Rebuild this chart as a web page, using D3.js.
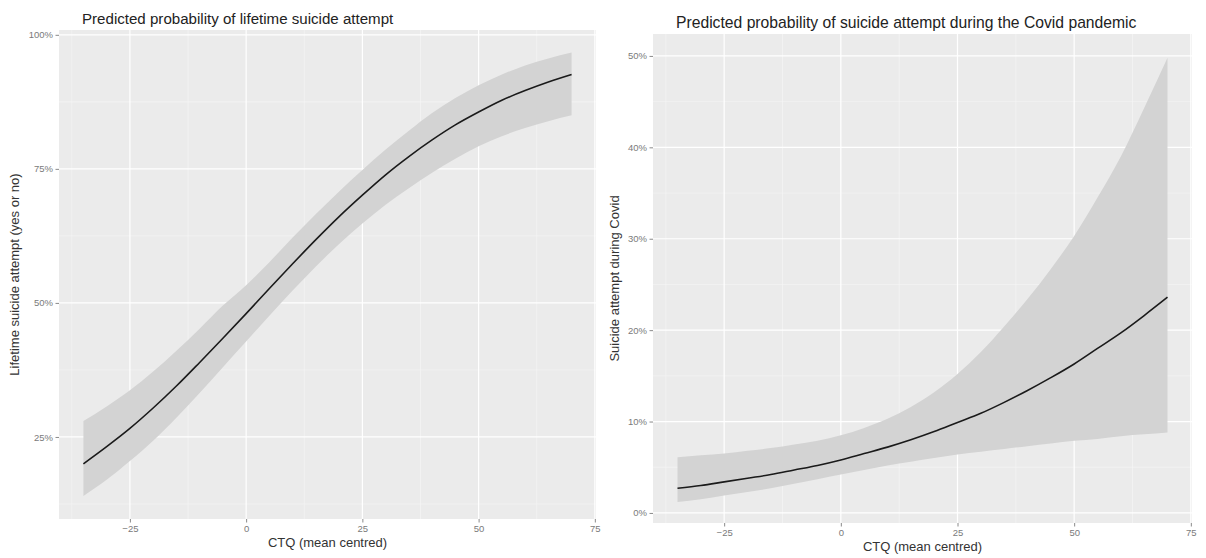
<!DOCTYPE html>
<html>
<head>
<meta charset="utf-8">
<script src="https://cdn.jsdelivr.net/npm/d3@7"></script>
<style>
  html, body { margin: 0; padding: 0; background: #fff; }
  svg { display: block; font-family: "Liberation Sans", Arial, sans-serif; }
</style>
</head>
<body>
<svg id="chart" width="1206" height="558"></svg>
<script>
// ---- Data ----
const ctq = [-35,-30,-25,-20,-15,-10,-5,0,5,10,15,20,25,30,35,40,45,50,55,60,65,70];

// Lifetime suicide attempt (proportion)
const lifetimeFit  = [0.200,0.232,0.266,0.304,0.345,0.389,0.434,0.480,0.527,0.573,0.618,0.661,0.701,0.739,0.773,0.804,0.832,0.856,0.878,0.896,0.912,0.926];
const lifetimeLow  = [0.140,0.170,0.205,0.243,0.286,0.332,0.380,0.428,0.476,0.523,0.568,0.610,0.648,0.683,0.714,0.743,0.769,0.792,0.811,0.826,0.839,0.850];
const lifetimeHigh = [0.280,0.307,0.337,0.372,0.411,0.452,0.495,0.533,0.576,0.622,0.666,0.708,0.748,0.786,0.821,0.854,0.882,0.906,0.926,0.943,0.956,0.967];

// Suicide attempt during Covid (proportion)
const covidFit  = [0.027,0.030,0.034,0.038,0.042,0.047,0.052,0.058,0.065,0.072,0.080,0.089,0.099,0.109,0.121,0.134,0.148,0.163,0.180,0.197,0.216,0.236];
const covidLow  = [0.012,0.015,0.019,0.023,0.027,0.032,0.037,0.042,0.047,0.052,0.056,0.060,0.064,0.067,0.070,0.073,0.076,0.079,0.081,0.084,0.086,0.088];
const covidHigh = [0.061,0.063,0.065,0.068,0.071,0.075,0.079,0.085,0.093,0.103,0.116,0.132,0.152,0.176,0.204,0.234,0.267,0.303,0.345,0.390,0.443,0.498];

// Tick labels
const xTicks = [-25, 0, 25, 50, 75];
const xMinor = [-37.5, -12.5, 12.5, 37.5, 62.5];
const lifetimeYTicks = [0.25, 0.50, 0.75, 1.00];
const lifetimeYMinor = [0.125, 0.375, 0.625, 0.875];
const covidYTicks = [0, 0.1, 0.2, 0.3, 0.4, 0.5];
const covidYMinor = [0.05, 0.15, 0.25, 0.35, 0.45];

const titles = ["Predicted probability of lifetime suicide attempt",
                "Predicted probability of suicide attempt during the Covid pandemic"];
const yTitles = ["Lifetime suicide attempt (yes or no)", "Suicide attempt during Covid"];
const xTitle = "CTQ (mean centred)";

// ---- Layout ----
const panels = [
  { box: {x0: 59, x1: 596, y0: 30, y1: 519}, xDom: [-40.25, 75.25], yDom: [0.097, 1.009],
    fit: lifetimeFit, low: lifetimeLow, high: lifetimeHigh,
    yTicks: lifetimeYTicks, yMinor: lifetimeYMinor,
    title: titles[0], titleX: 82, titleY: 24, titleSize: 15.1,
    yTitle: yTitles[0], yTitleX: 19, xTitleY: 547 },
  { box: {x0: 653, x1: 1192, y0: 34, y1: 523}, xDom: [-40.25, 75.25], yDom: [-0.011, 0.524],
    fit: covidFit, low: covidLow, high: covidHigh,
    yTicks: covidYTicks, yMinor: covidYMinor,
    title: titles[1], titleX: 676, titleY: 28, titleSize: 15.7,
    yTitle: yTitles[1], yTitleX: 619, xTitleY: 551 }
];

const svg = d3.select("#chart");
const pctFmt = d3.format(".0%");

panels.forEach(p => {
  const b = p.box;
  const x = d3.scaleLinear().domain(p.xDom).range([b.x0, b.x1]);
  const y = d3.scaleLinear().domain(p.yDom).range([b.y1, b.y0]);
  const g = svg.append("g");

  // panel background
  g.append("rect").attr("x", b.x0).attr("y", b.y0)
    .attr("width", b.x1 - b.x0).attr("height", b.y1 - b.y0).attr("fill", "#ebebeb");

  // minor grid
  g.selectAll(".vminor").data(xMinor).join("line")
    .attr("x1", d => x(d)).attr("x2", d => x(d)).attr("y1", b.y0).attr("y2", b.y1)
    .attr("stroke", "#f6f6f6").attr("stroke-width", 0.6);
  g.selectAll(".hminor").data(p.yMinor).join("line")
    .attr("y1", d => y(d)).attr("y2", d => y(d)).attr("x1", b.x0).attr("x2", b.x1)
    .attr("stroke", "#f6f6f6").attr("stroke-width", 0.6);
  // major grid
  g.selectAll(".vmajor").data(xTicks).join("line")
    .attr("x1", d => x(d)).attr("x2", d => x(d)).attr("y1", b.y0).attr("y2", b.y1)
    .attr("stroke", "#ffffff").attr("stroke-width", 1.2);
  g.selectAll(".hmajor").data(p.yTicks).join("line")
    .attr("y1", d => y(d)).attr("y2", d => y(d)).attr("x1", b.x0).attr("x2", b.x1)
    .attr("stroke", "#ffffff").attr("stroke-width", 1.2);

  // ribbon
  const area = d3.area().x((d, i) => x(ctq[i])).y0((d, i) => y(p.low[i])).y1((d, i) => y(p.high[i]))
    .curve(d3.curveMonotoneX);
  g.append("path").datum(ctq).attr("d", area).attr("fill", "#d3d3d3");

  // line
  const line = d3.line().x((d, i) => x(ctq[i])).y((d, i) => y(p.fit[i])).curve(d3.curveMonotoneX);
  g.append("path").datum(ctq).attr("d", line).attr("fill", "none")
    .attr("stroke", "#1a1a1a").attr("stroke-width", 1.6);

  // axes
  const xAxis = g.append("g").attr("transform", `translate(0,${b.y1})`)
    .call(d3.axisBottom(x).tickValues(xTicks).tickSize(3.5).tickPadding(2.5).tickFormat(d3.format("d")));
  const yAxis = g.append("g").attr("transform", `translate(${b.x0},0)`)
    .call(d3.axisLeft(y).tickValues(p.yTicks).tickSize(3.5).tickPadding(2.5).tickFormat(pctFmt));
  [xAxis, yAxis].forEach(a => {
    a.select(".domain").remove();
    a.selectAll(".tick line").attr("stroke", "#8a8a8a");
    a.selectAll(".tick text").attr("fill", "#7a7a7a").style("font-size", "9.5px")
      .style("font-family", '"Liberation Sans", Arial, sans-serif');
  });

  // titles
  g.append("text").attr("x", p.titleX).attr("y", p.titleY).text(p.title)
    .attr("fill", "#222").style("font-size", p.titleSize + "px");
  g.append("text").attr("x", (b.x0 + b.x1) / 2).attr("y", p.xTitleY).attr("text-anchor", "middle")
    .text(xTitle).attr("fill", "#333").style("font-size", "13px");
  const cy = (b.y0 + b.y1) / 2;
  g.append("text").attr("transform", `translate(${p.yTitleX},${cy}) rotate(-90)`)
    .attr("text-anchor", "middle").text(p.yTitle).attr("fill", "#333").style("font-size", "13px");
});
</script>
</body>
</html>
